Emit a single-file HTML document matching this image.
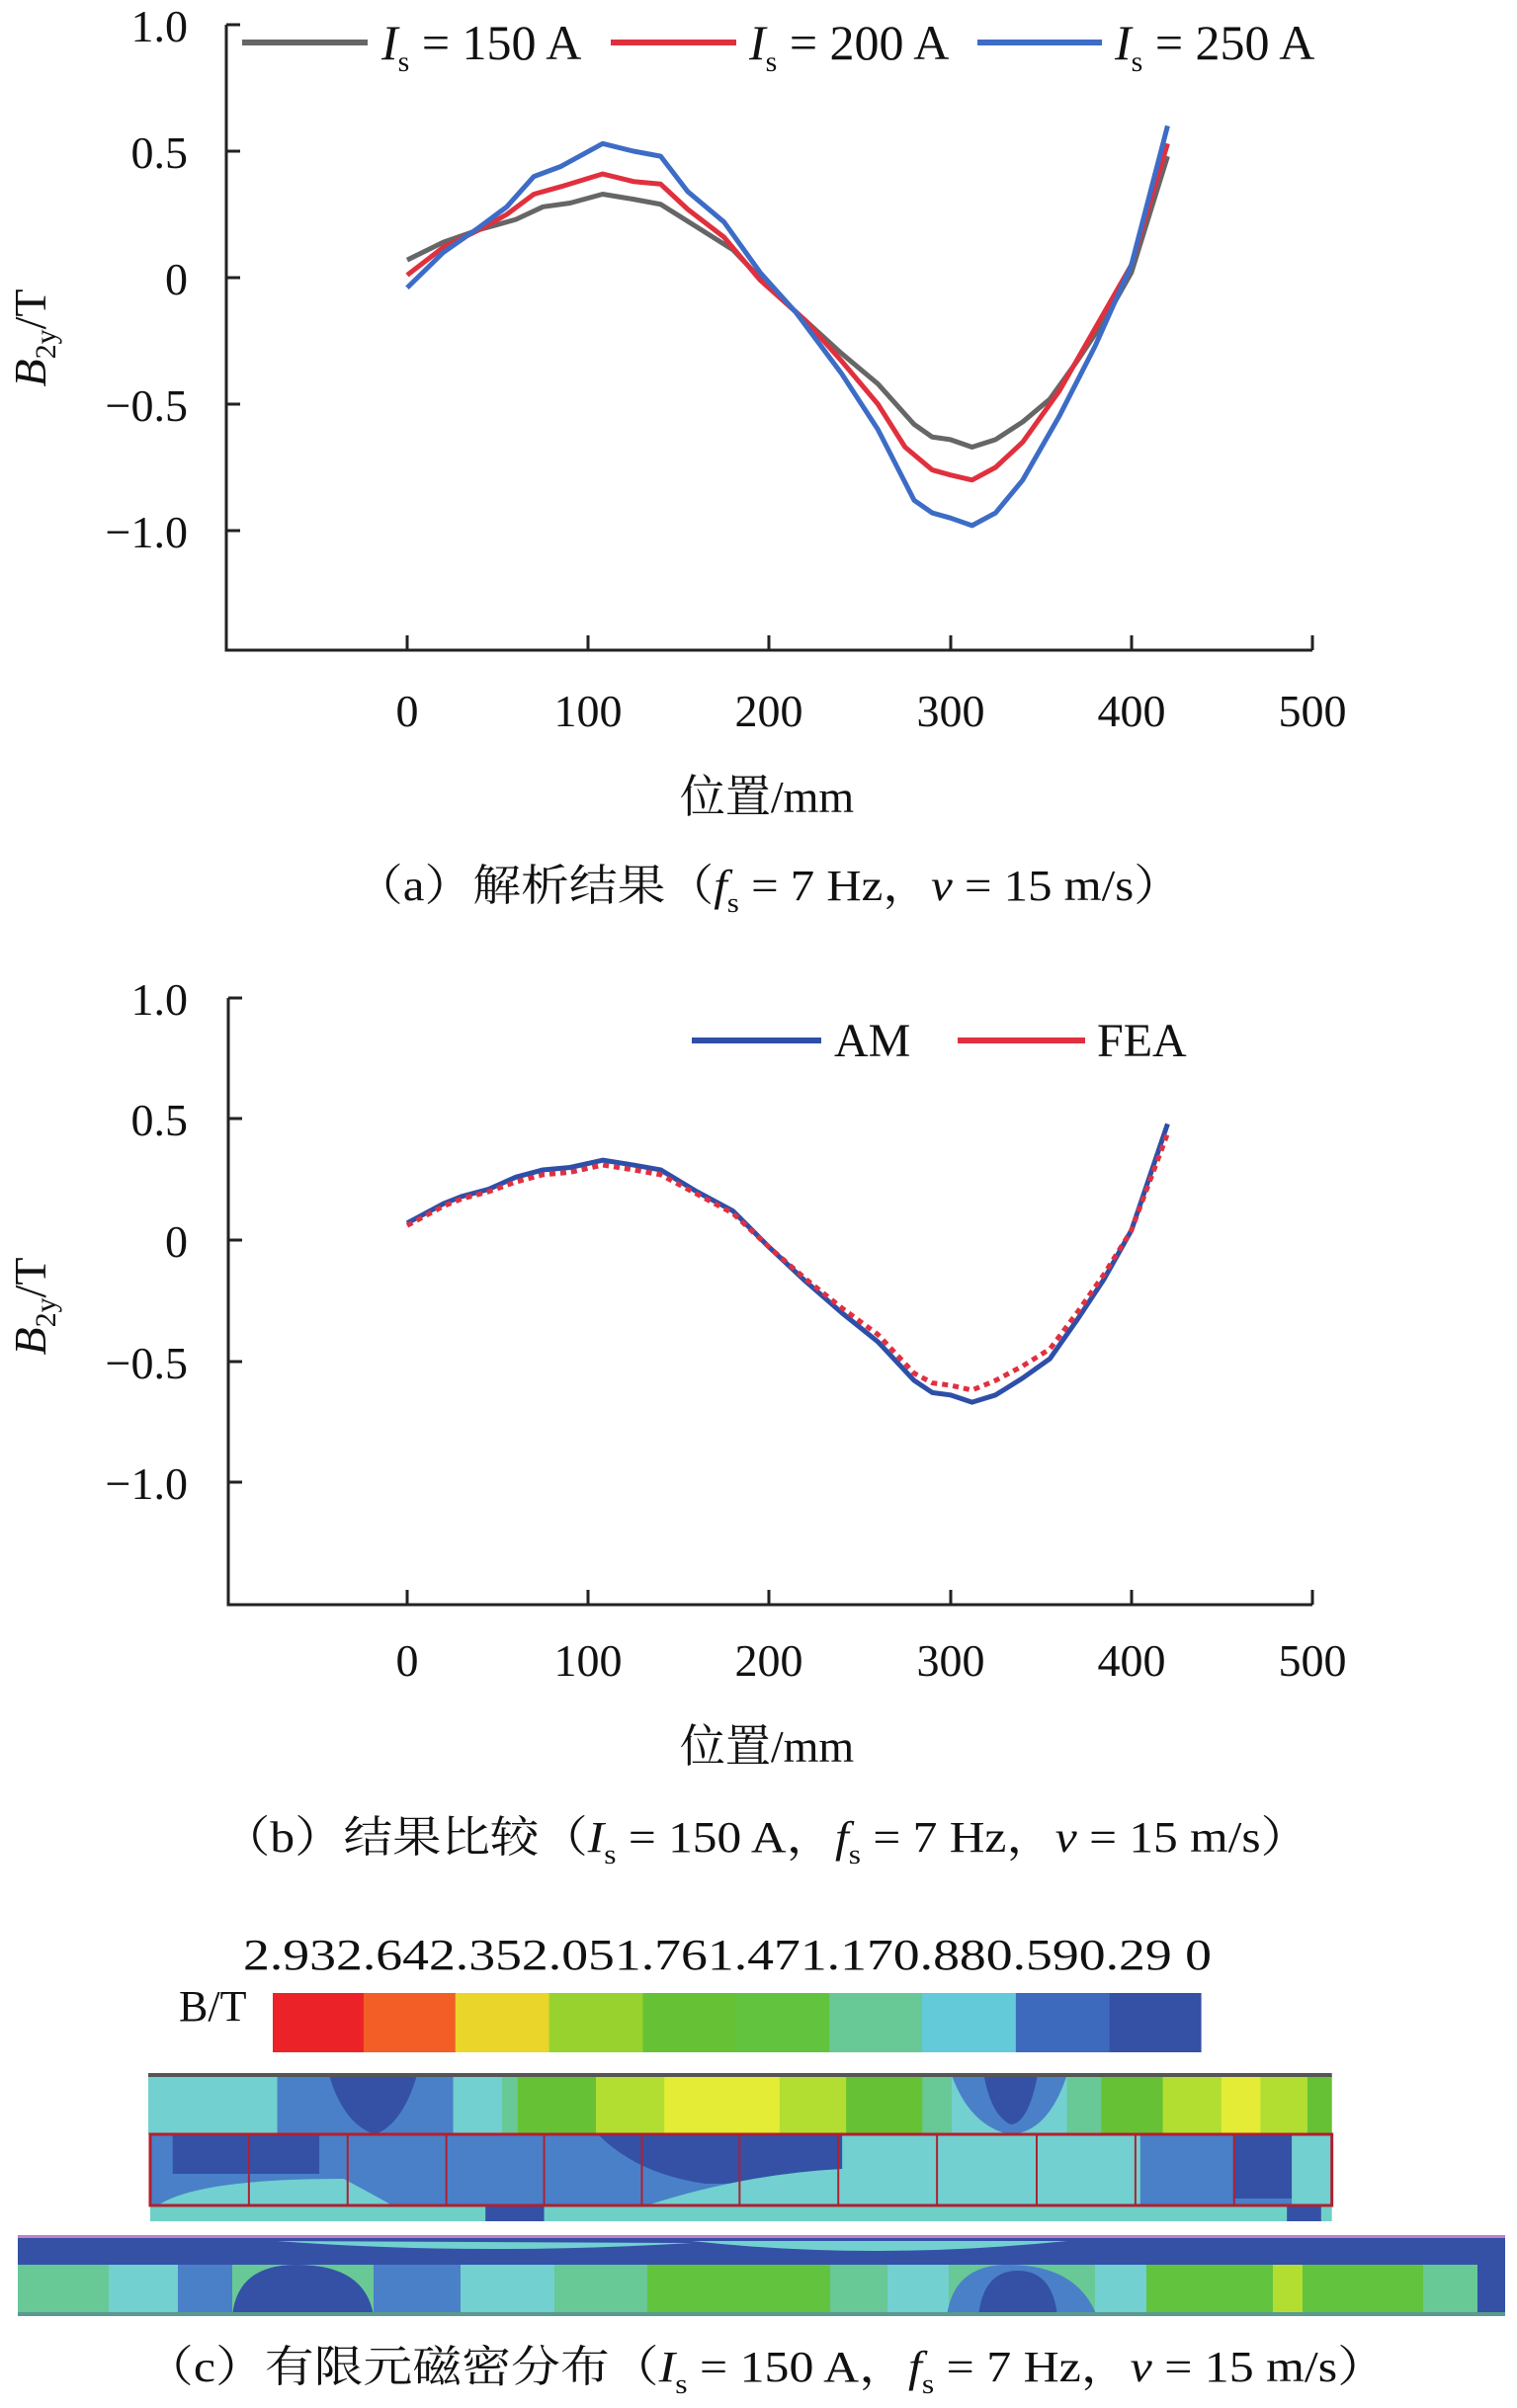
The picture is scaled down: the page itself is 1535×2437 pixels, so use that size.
<!DOCTYPE html>
<html><head><meta charset="utf-8"><style>
body{margin:0;background:#fff}
svg{display:block}
text{font-family:"Liberation Serif","Noto Serif CJK SC","Noto Sans CJK SC",serif;fill:#111}
</style></head><body>
<svg width="1535" height="2437" viewBox="0 0 1535 2437" xmlns="http://www.w3.org/2000/svg">
<!-- Chart A -->
<g stroke="#222" stroke-width="3" fill="none">
<path d="M229,25 V658 H1328"/>
<path d="M229,25 H243 M229,153 H243 M229,281 H243 M229,409 H243 M229,537 H243"/>
<path d="M412,658 V643 M595,658 V643 M778,658 V643 M962,658 V643 M1145,658 V643 M1328,658 V643"/>
</g>
<g font-size="46" text-anchor="end">
<text x="190" y="42">1.0</text><text x="190" y="170">0.5</text><text x="190" y="298">0</text><text x="190" y="426">−0.5</text><text x="190" y="554">−1.0</text>
</g>
<g font-size="46" text-anchor="middle">
<text x="412" y="735">0</text><text x="595" y="735">100</text><text x="778" y="735">200</text><text x="962" y="735">300</text><text x="1145" y="735">400</text><text x="1328" y="735">500</text>
<text x="776" y="822" font-size="46">位置/mm</text>
</g>
<text transform="translate(46,342) rotate(-90)" font-size="46" text-anchor="middle"><tspan font-style="italic">B</tspan><tspan font-size="30" dy="10">2y</tspan><tspan dy="-10">/T</tspan></text>
<g stroke-width="6" fill="none">
<path d="M245,43 H372" stroke="#666"/><path d="M618,43 H745" stroke="#e0303e"/><path d="M989,43 H1115" stroke="#3d6cc6"/>
</g>
<g font-size="50">
<text x="386" y="60"><tspan font-style="italic">I</tspan><tspan font-size="30" dy="12">s</tspan><tspan dy="-12"> = 150 A</tspan></text>
<text x="758" y="60"><tspan font-style="italic">I</tspan><tspan font-size="30" dy="12">s</tspan><tspan dy="-12"> = 200 A</tspan></text>
<text x="1128" y="60"><tspan font-style="italic">I</tspan><tspan font-size="30" dy="12">s</tspan><tspan dy="-12"> = 250 A</tspan></text>
</g>
<g transform="translate(412,281) scale(1.832,-256)" fill="none" stroke-width="5" stroke-linejoin="round">
<polyline vector-effect="non-scaling-stroke" stroke="#666" points="0,0.07 20,0.14 40,0.19 60,0.23 75,0.28 90,0.295 108,0.33 125,0.31 140,0.29 160,0.2 180,0.11 200,-0.04 220,-0.17 240,-0.3 260,-0.42 280,-0.58 290,-0.63 300,-0.64 312,-0.67 325,-0.64 340,-0.57 355,-0.48 370,-0.33 385,-0.17 400,0.02 420,0.48"/>
<polyline vector-effect="non-scaling-stroke" stroke="#e0303e" points="0,0.01 20,0.12 40,0.19 55,0.25 70,0.33 85,0.36 108,0.41 125,0.38 140,0.37 155,0.27 175,0.16 195,-0.01 220,-0.17 240,-0.33 260,-0.5 275,-0.67 290,-0.76 300,-0.78 312,-0.8 325,-0.75 340,-0.65 360,-0.45 380,-0.2 400,0.05 420,0.53"/>
<polyline vector-effect="non-scaling-stroke" stroke="#3d6cc6" points="0,-0.04 20,0.1 40,0.2 55,0.28 70,0.4 85,0.44 108,0.53 125,0.5 140,0.48 155,0.34 175,0.22 195,0.02 215,-0.14 240,-0.38 260,-0.6 280,-0.88 290,-0.93 300,-0.95 312,-0.98 325,-0.93 340,-0.8 360,-0.55 380,-0.27 400,0.05 420,0.6"/>
</g>
<text x="359" y="911" font-size="44" textLength="837" lengthAdjust="spacingAndGlyphs">（a）解析结果（<tspan font-style="italic">f</tspan><tspan font-size="28" dy="12">s</tspan><tspan dy="-12"> = 7 Hz，</tspan><tspan font-style="italic">v</tspan> = 15 m/s）</text>

<!-- Chart B -->
<g stroke="#222" stroke-width="3" fill="none">
<path d="M231,1010 V1624 H1328"/>
<path d="M231,1010 H245 M231,1132 H245 M231,1255 H245 M231,1378 H245 M231,1500 H245"/>
<path d="M412,1624 V1609 M595,1624 V1609 M778,1624 V1609 M962,1624 V1609 M1145,1624 V1609 M1328,1624 V1609"/>
</g>
<g font-size="46" text-anchor="end">
<text x="190" y="1027">1.0</text><text x="190" y="1149">0.5</text><text x="190" y="1272">0</text><text x="190" y="1395">−0.5</text><text x="190" y="1517">−1.0</text>
</g>
<g font-size="46" text-anchor="middle">
<text x="412" y="1696">0</text><text x="595" y="1696">100</text><text x="778" y="1696">200</text><text x="962" y="1696">300</text><text x="1145" y="1696">400</text><text x="1328" y="1696">500</text>
<text x="776" y="1783">位置/mm</text>
</g>
<text transform="translate(46,1322) rotate(-90)" font-size="46" text-anchor="middle"><tspan font-style="italic">B</tspan><tspan font-size="30" dy="10">2y</tspan><tspan dy="-10">/T</tspan></text>
<path d="M700,1053 H831" stroke="#2e4fa8" stroke-width="6"/>
<path d="M969,1053 H1098" stroke="#e03040" stroke-width="6"/>
<text x="844" y="1069" font-size="48">AM</text>
<text x="1110" y="1069" font-size="48">FEA</text>
<g transform="translate(412,1255) scale(1.832,-245)" fill="none" stroke-linejoin="round">
<polyline vector-effect="non-scaling-stroke" stroke="#2e4fa8" stroke-width="5" points="0,0.07 20,0.15 30,0.18 45,0.21 60,0.26 75,0.29 90,0.3 108,0.33 125,0.31 140,0.29 160,0.2 180,0.12 200,-0.03 220,-0.17 240,-0.3 260,-0.42 280,-0.58 290,-0.63 300,-0.64 312,-0.67 325,-0.64 340,-0.57 355,-0.49 370,-0.33 385,-0.16 400,0.04 420,0.48"/>
<polyline vector-effect="non-scaling-stroke" stroke="#e03040" stroke-width="5" stroke-dasharray="6,5" points="0,0.06 20,0.14 30,0.17 45,0.2 60,0.24 75,0.27 90,0.28 108,0.31 125,0.29 140,0.27 160,0.19 180,0.11 200,-0.03 220,-0.16 240,-0.28 260,-0.39 280,-0.55 290,-0.59 300,-0.6 312,-0.62 325,-0.58 340,-0.52 355,-0.45 370,-0.3 385,-0.14 400,0.04 420,0.44"/>
</g>
<text x="224" y="1874" font-size="44" textLength="1101" lengthAdjust="spacingAndGlyphs">（b）结果比较（<tspan font-style="italic">I</tspan><tspan font-size="28" dy="12">s</tspan><tspan dy="-12"> = 150 A，</tspan><tspan font-style="italic">f</tspan><tspan font-size="28" dy="12">s</tspan><tspan dy="-12"> = 7 Hz，</tspan><tspan font-style="italic">v</tspan> = 15 m/s）</text>

<!-- Colorbar -->
<text x="246" y="1993" font-size="44" textLength="980" lengthAdjust="spacingAndGlyphs">2.932.642.352.051.761.471.170.880.590.29  0</text>
<text x="181" y="2045" font-size="44">B/T</text>
<g transform="translate(276,0) scale(0.988,1) translate(-276,0)">
<rect x="276" y="2017" width="94" height="60" fill="#ec2229"/>
<rect x="369" y="2017" width="95" height="60" fill="#f25e25"/>
<rect x="463" y="2017" width="97" height="60" fill="#ead52b"/>
<rect x="559" y="2017" width="97" height="60" fill="#97d22f"/>
<rect x="655" y="2017" width="96" height="60" fill="#66c234"/>
<rect x="750" y="2017" width="97" height="60" fill="#62c33e"/>
<rect x="846" y="2017" width="96" height="60" fill="#68c896"/>
<rect x="941" y="2017" width="97" height="60" fill="#62cad9"/>
<rect x="1037" y="2017" width="97" height="60" fill="#3e6abd"/>
<rect x="1133" y="2017" width="94" height="60" fill="#3451a6"/>
</g>
<!-- Top FEA block -->
<g transform="translate(150,0) scale(0.989,1) translate(-150,0)">
<rect x="150" y="2100" width="1211" height="60" fill="#72d0d0"/>
<rect x="282" y="2100" width="180" height="60" fill="#4a80c8"/>
<path d="M335,2100 H425 Q410,2150 382,2160 Q350,2150 335,2100Z" fill="#3451a6"/>
<rect x="462" y="2100" width="50" height="60" fill="#72d0d0"/>
<rect x="512" y="2100" width="18" height="60" fill="#68c896"/>
<rect x="528" y="2100" width="82" height="60" fill="#66c234"/>
<rect x="608" y="2100" width="72" height="60" fill="#b2de32"/>
<rect x="678" y="2100" width="120" height="60" fill="#e4ec35"/>
<rect x="796" y="2100" width="70" height="60" fill="#b2de32"/>
<rect x="864" y="2100" width="80" height="60" fill="#66c234"/>
<rect x="942" y="2100" width="30" height="60" fill="#68c896"/>
<path d="M972,2100 H1090 Q1070,2160 1030,2160 Q990,2150 972,2100Z" fill="#4a80c8"/>
<path d="M1005,2100 H1060 Q1050,2150 1032,2150 Q1012,2140 1005,2100Z" fill="#3451a6"/>
<rect x="1090" y="2100" width="35" height="60" fill="#68c896"/>
<rect x="1125" y="2100" width="65" height="60" fill="#66c234"/>
<rect x="1188" y="2100" width="62" height="60" fill="#b2de32"/>
<rect x="1248" y="2100" width="42" height="60" fill="#e4ec35"/>
<rect x="1288" y="2100" width="50" height="60" fill="#b2de32"/>
<rect x="1336" y="2100" width="25" height="60" fill="#66c234"/>
<rect x="150" y="2098" width="1211" height="4" fill="#555"/>
<rect x="152" y="2160" width="1209" height="72" fill="#4a80c8"/>
<rect x="175" y="2160" width="150" height="40" fill="#3451a6"/>
<path d="M610,2160 H860 V2200 Q800,2210 720,2210 Q650,2200 610,2160Z" fill="#3451a6"/>
<path d="M660,2232 Q760,2200 860,2195 L860,2160 H1170 V2232Z" fill="#72d0d0"/>
<path d="M160,2232 Q200,2205 350,2205 L400,2232Z" fill="#72d0d0"/>
<rect x="1165" y="2160" width="95" height="72" fill="#4a80c8"/>
<rect x="1260" y="2160" width="60" height="65" fill="#3451a6"/>
<rect x="1320" y="2160" width="41" height="72" fill="#72d0d0"/>
<rect x="152" y="2232" width="1209" height="16" fill="#6fd0c8"/>
<rect x="495" y="2232" width="60" height="16" fill="#3451a6"/>
<rect x="1315" y="2232" width="35" height="16" fill="#3451a6"/>
<g stroke="#b02030" stroke-width="2" fill="none">
<rect x="152" y="2160" width="1209" height="72" stroke-width="3"/>
<path d="M253,2160V2232 M354,2160V2232 M455,2160V2232 M555,2160V2232 M655,2160V2232 M755,2160V2232 M856,2160V2232 M957,2160V2232 M1059,2160V2232 M1160,2160V2232 M1261,2160V2232"/>
</g>
</g>
<!-- Bottom FEA block -->
<g>
<rect x="18" y="2264" width="1505" height="80" fill="#68c896"/>
<rect x="18" y="2264" width="1505" height="28" fill="#3451a6"/>
<path d="M280,2268 Q480,2283 700,2270Z M700,2268 Q880,2288 1080,2268Z" fill="#72d0d0"/>
<rect x="18" y="2262" width="1505" height="3" fill="#c080c8"/>
<rect x="110" y="2292" width="75" height="52" fill="#72d0d0"/>
<rect x="180" y="2292" width="55" height="52" fill="#4a80c8"/>
<path d="M235,2344 Q240,2292 300,2292 Q370,2292 378,2344Z" fill="#3451a6"/>
<rect x="378" y="2292" width="90" height="52" fill="#4a80c8"/>
<rect x="466" y="2292" width="95" height="52" fill="#72d0d0"/>
<rect x="655" y="2292" width="185" height="52" fill="#62c33e"/>
<rect x="898" y="2292" width="62" height="52" fill="#72d0d0"/>
<path d="M958,2344 Q965,2292 1020,2292 Q1090,2292 1110,2344Z" fill="#4a80c8"/>
<path d="M990,2344 Q995,2298 1030,2298 Q1065,2298 1070,2344Z" fill="#3451a6"/>
<rect x="1108" y="2292" width="55" height="52" fill="#72d0d0"/>
<rect x="1160" y="2292" width="130" height="52" fill="#62c33e"/>
<rect x="1288" y="2292" width="32" height="52" fill="#b2de32"/>
<rect x="1318" y="2292" width="122" height="52" fill="#62c33e"/>
<rect x="1495" y="2292" width="28" height="52" fill="#3451a6"/>
<rect x="18" y="2340" width="1505" height="4" fill="#5a9a90"/>
</g>
<text x="146" y="2410" font-size="44" textLength="1257" lengthAdjust="spacingAndGlyphs">（c）有限元磁密分布（<tspan font-style="italic">I</tspan><tspan font-size="28" dy="12">s</tspan><tspan dy="-12"> = 150 A，</tspan><tspan font-style="italic">f</tspan><tspan font-size="28" dy="12">s</tspan><tspan dy="-12"> = 7 Hz，</tspan><tspan font-style="italic">v</tspan> = 15 m/s）</text>
</svg>
</body></html>
